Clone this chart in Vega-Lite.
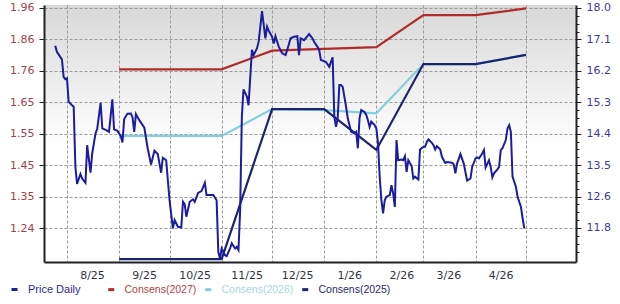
{
  "$schema": "https://vega.github.io/schema/vega-lite/v6.json",
  "width": 532,
  "height": 257,
  "autosize": {"type": "none"},
  "padding": {"left": 44, "top": 5, "right": 44, "bottom": 42},
  "background": "#ffffff",
  "view": {
    "stroke": null,
    "fill": {
      "gradient": "linear", "x1": 0, "y1": 0, "x2": 0, "y2": 1,
      "stops": [
        {"offset": 0, "color": "#d8d8d8"},
        {"offset": 0.55, "color": "#ffffff"},
        {"offset": 1, "color": "#ffffff"}
      ]
    }
  },
  "config": {"font": "DejaVu Sans"},
  "datasets": {
    "price": [
      {"date":"2025-07-25","series":"Price Daily","price":1.840},
      {"date":"2025-07-26","series":"Price Daily","price":1.820},
      {"date":"2025-07-29","series":"Price Daily","price":1.795},
      {"date":"2025-07-30","series":"Price Daily","price":1.738},
      {"date":"2025-07-31","series":"Price Daily","price":1.730},
      {"date":"2025-08-01","series":"Price Daily","price":1.733},
      {"date":"2025-08-02","series":"Price Daily","price":1.656},
      {"date":"2025-08-04","series":"Price Daily","price":1.645},
      {"date":"2025-08-05","series":"Price Daily","price":1.640},
      {"date":"2025-08-06","series":"Price Daily","price":1.443},
      {"date":"2025-08-07","series":"Price Daily","price":1.387},
      {"date":"2025-08-09","series":"Price Daily","price":1.420},
      {"date":"2025-08-10","series":"Price Daily","price":1.405},
      {"date":"2025-08-12","series":"Price Daily","price":1.391},
      {"date":"2025-08-13","series":"Price Daily","price":1.514},
      {"date":"2025-08-15","series":"Price Daily","price":1.424},
      {"date":"2025-08-16","series":"Price Daily","price":1.487},
      {"date":"2025-08-18","series":"Price Daily","price":1.553},
      {"date":"2025-08-19","series":"Price Daily","price":1.568},
      {"date":"2025-08-21","series":"Price Daily","price":1.653},
      {"date":"2025-08-22","series":"Price Daily","price":1.569},
      {"date":"2025-08-24","series":"Price Daily","price":1.564},
      {"date":"2025-08-26","series":"Price Daily","price":1.558},
      {"date":"2025-08-28","series":"Price Daily","price":1.664},
      {"date":"2025-08-29","series":"Price Daily","price":1.566},
      {"date":"2025-08-31","series":"Price Daily","price":1.561},
      {"date":"2025-09-02","series":"Price Daily","price":1.544},
      {"date":"2025-09-03","series":"Price Daily","price":1.523},
      {"date":"2025-09-04","series":"Price Daily","price":1.599},
      {"date":"2025-09-05","series":"Price Daily","price":1.609},
      {"date":"2025-09-06","series":"Price Daily","price":1.617},
      {"date":"2025-09-08","series":"Price Daily","price":1.618},
      {"date":"2025-09-09","series":"Price Daily","price":1.605},
      {"date":"2025-09-10","series":"Price Daily","price":1.558},
      {"date":"2025-09-11","series":"Price Daily","price":1.616},
      {"date":"2025-09-13","series":"Price Daily","price":1.596},
      {"date":"2025-09-15","series":"Price Daily","price":1.580},
      {"date":"2025-09-16","series":"Price Daily","price":1.572},
      {"date":"2025-09-18","series":"Price Daily","price":1.504},
      {"date":"2025-09-20","series":"Price Daily","price":1.451},
      {"date":"2025-09-22","series":"Price Daily","price":1.496},
      {"date":"2025-09-24","series":"Price Daily","price":1.485},
      {"date":"2025-09-26","series":"Price Daily","price":1.424},
      {"date":"2025-09-27","series":"Price Daily","price":1.473},
      {"date":"2025-09-29","series":"Price Daily","price":1.465},
      {"date":"2025-10-01","series":"Price Daily","price":1.334},
      {"date":"2025-10-03","series":"Price Daily","price":1.242},
      {"date":"2025-10-04","series":"Price Daily","price":1.269},
      {"date":"2025-10-06","series":"Price Daily","price":1.247},
      {"date":"2025-10-08","series":"Price Daily","price":1.245},
      {"date":"2025-10-09","series":"Price Daily","price":1.329},
      {"date":"2025-10-10","series":"Price Daily","price":1.321},
      {"date":"2025-10-11","series":"Price Daily","price":1.280},
      {"date":"2025-10-13","series":"Price Daily","price":1.329},
      {"date":"2025-10-15","series":"Price Daily","price":1.337},
      {"date":"2025-10-16","series":"Price Daily","price":1.329},
      {"date":"2025-10-18","series":"Price Daily","price":1.358},
      {"date":"2025-10-20","series":"Price Daily","price":1.364},
      {"date":"2025-10-22","series":"Price Daily","price":1.391},
      {"date":"2025-10-23","series":"Price Daily","price":1.351},
      {"date":"2025-10-27","series":"Price Daily","price":1.351},
      {"date":"2025-10-29","series":"Price Daily","price":1.334},
      {"date":"2025-10-30","series":"Price Daily","price":1.165},
      {"date":"2025-10-31","series":"Price Daily","price":1.143},
      {"date":"2025-11-01","series":"Price Daily","price":1.176},
      {"date":"2025-11-03","series":"Price Daily","price":1.154},
      {"date":"2025-11-04","series":"Price Daily","price":1.151},
      {"date":"2025-11-06","series":"Price Daily","price":1.176},
      {"date":"2025-11-07","series":"Price Daily","price":1.193},
      {"date":"2025-11-09","series":"Price Daily","price":1.176},
      {"date":"2025-11-10","series":"Price Daily","price":1.181},
      {"date":"2025-11-11","series":"Price Daily","price":1.171},
      {"date":"2025-11-12","series":"Price Daily","price":1.302},
      {"date":"2025-11-13","series":"Price Daily","price":1.607},
      {"date":"2025-11-14","series":"Price Daily","price":1.697},
      {"date":"2025-11-16","series":"Price Daily","price":1.673},
      {"date":"2025-11-17","series":"Price Daily","price":1.645},
      {"date":"2025-11-19","series":"Price Daily","price":1.826},
      {"date":"2025-11-20","series":"Price Daily","price":1.809},
      {"date":"2025-11-22","series":"Price Daily","price":1.831},
      {"date":"2025-11-23","series":"Price Daily","price":1.853},
      {"date":"2025-11-24","series":"Price Daily","price":1.902},
      {"date":"2025-11-25","series":"Price Daily","price":1.953},
      {"date":"2025-11-27","series":"Price Daily","price":1.864},
      {"date":"2025-11-28","series":"Price Daily","price":1.902},
      {"date":"2025-11-29","series":"Price Daily","price":1.889},
      {"date":"2025-12-01","series":"Price Daily","price":1.869},
      {"date":"2025-12-02","series":"Price Daily","price":1.847},
      {"date":"2025-12-03","series":"Price Daily","price":1.871},
      {"date":"2025-12-04","series":"Price Daily","price":1.853},
      {"date":"2025-12-05","series":"Price Daily","price":1.836},
      {"date":"2025-12-07","series":"Price Daily","price":1.815},
      {"date":"2025-12-09","series":"Price Daily","price":1.809},
      {"date":"2025-12-10","series":"Price Daily","price":1.826},
      {"date":"2025-12-12","series":"Price Daily","price":1.864},
      {"date":"2025-12-14","series":"Price Daily","price":1.869},
      {"date":"2025-12-16","series":"Price Daily","price":1.871},
      {"date":"2025-12-17","series":"Price Daily","price":1.809},
      {"date":"2025-12-18","series":"Price Daily","price":1.864},
      {"date":"2025-12-20","series":"Price Daily","price":1.858},
      {"date":"2025-12-22","series":"Price Daily","price":1.871},
      {"date":"2025-12-23","series":"Price Daily","price":1.878},
      {"date":"2025-12-25","series":"Price Daily","price":1.864},
      {"date":"2025-12-26","series":"Price Daily","price":1.853},
      {"date":"2025-12-28","series":"Price Daily","price":1.836},
      {"date":"2025-12-29","series":"Price Daily","price":1.826},
      {"date":"2025-12-30","series":"Price Daily","price":1.793},
      {"date":"2026-01-02","series":"Price Daily","price":1.787},
      {"date":"2026-01-04","series":"Price Daily","price":1.771},
      {"date":"2026-01-05","series":"Price Daily","price":1.787},
      {"date":"2026-01-06","series":"Price Daily","price":1.802},
      {"date":"2026-01-07","series":"Price Daily","price":1.607},
      {"date":"2026-01-08","series":"Price Daily","price":1.574},
      {"date":"2026-01-09","series":"Price Daily","price":1.602},
      {"date":"2026-01-10","series":"Price Daily","price":1.711},
      {"date":"2026-01-11","series":"Price Daily","price":1.711},
      {"date":"2026-01-12","series":"Price Daily","price":1.705},
      {"date":"2026-01-14","series":"Price Daily","price":1.640},
      {"date":"2026-01-15","series":"Price Daily","price":1.602},
      {"date":"2026-01-17","series":"Price Daily","price":1.558},
      {"date":"2026-01-19","series":"Price Daily","price":1.553},
      {"date":"2026-01-20","series":"Price Daily","price":1.558},
      {"date":"2026-01-21","series":"Price Daily","price":1.504},
      {"date":"2026-01-22","series":"Price Daily","price":1.602},
      {"date":"2026-01-23","series":"Price Daily","price":1.629},
      {"date":"2026-01-25","series":"Price Daily","price":1.623},
      {"date":"2026-01-26","series":"Price Daily","price":1.613},
      {"date":"2026-01-27","series":"Price Daily","price":1.596},
      {"date":"2026-01-28","series":"Price Daily","price":1.574},
      {"date":"2026-01-29","series":"Price Daily","price":1.591},
      {"date":"2026-01-31","series":"Price Daily","price":1.580},
      {"date":"2026-02-01","series":"Price Daily","price":1.569},
      {"date":"2026-02-02","series":"Price Daily","price":1.520},
      {"date":"2026-02-03","series":"Price Daily","price":1.411},
      {"date":"2026-02-04","series":"Price Daily","price":1.334},
      {"date":"2026-02-05","series":"Price Daily","price":1.291},
      {"date":"2026-02-06","series":"Price Daily","price":1.334},
      {"date":"2026-02-07","series":"Price Daily","price":1.345},
      {"date":"2026-02-09","series":"Price Daily","price":1.351},
      {"date":"2026-02-10","series":"Price Daily","price":1.383},
      {"date":"2026-02-11","series":"Price Daily","price":1.356},
      {"date":"2026-02-12","series":"Price Daily","price":1.312},
      {"date":"2026-02-13","series":"Price Daily","price":1.531},
      {"date":"2026-02-14","series":"Price Daily","price":1.465},
      {"date":"2026-02-16","series":"Price Daily","price":1.467},
      {"date":"2026-02-17","series":"Price Daily","price":1.465},
      {"date":"2026-02-18","series":"Price Daily","price":1.478},
      {"date":"2026-02-19","series":"Price Daily","price":1.427},
      {"date":"2026-02-20","series":"Price Daily","price":1.465},
      {"date":"2026-02-22","series":"Price Daily","price":1.446},
      {"date":"2026-02-23","series":"Price Daily","price":1.405},
      {"date":"2026-02-24","series":"Price Daily","price":1.411},
      {"date":"2026-02-26","series":"Price Daily","price":1.402},
      {"date":"2026-02-27","series":"Price Daily","price":1.500},
      {"date":"2026-03-01","series":"Price Daily","price":1.509},
      {"date":"2026-03-02","series":"Price Daily","price":1.509},
      {"date":"2026-03-03","series":"Price Daily","price":1.525},
      {"date":"2026-03-04","series":"Price Daily","price":1.533},
      {"date":"2026-03-06","series":"Price Daily","price":1.522},
      {"date":"2026-03-07","series":"Price Daily","price":1.514},
      {"date":"2026-03-08","series":"Price Daily","price":1.500},
      {"date":"2026-03-09","series":"Price Daily","price":1.511},
      {"date":"2026-03-11","series":"Price Daily","price":1.500},
      {"date":"2026-03-12","series":"Price Daily","price":1.476},
      {"date":"2026-03-14","series":"Price Daily","price":1.456},
      {"date":"2026-03-15","series":"Price Daily","price":1.459},
      {"date":"2026-03-18","series":"Price Daily","price":1.457},
      {"date":"2026-03-19","series":"Price Daily","price":1.452},
      {"date":"2026-03-20","series":"Price Daily","price":1.422},
      {"date":"2026-03-21","series":"Price Daily","price":1.454},
      {"date":"2026-03-23","series":"Price Daily","price":1.485},
      {"date":"2026-03-25","series":"Price Daily","price":1.454},
      {"date":"2026-03-27","series":"Price Daily","price":1.398},
      {"date":"2026-03-29","series":"Price Daily","price":1.405},
      {"date":"2026-03-30","series":"Price Daily","price":1.443},
      {"date":"2026-04-01","series":"Price Daily","price":1.471},
      {"date":"2026-04-02","series":"Price Daily","price":1.474},
      {"date":"2026-04-03","series":"Price Daily","price":1.471},
      {"date":"2026-04-05","series":"Price Daily","price":1.487},
      {"date":"2026-04-06","series":"Price Daily","price":1.498},
      {"date":"2026-04-07","series":"Price Daily","price":1.441},
      {"date":"2026-04-09","series":"Price Daily","price":1.465},
      {"date":"2026-04-10","series":"Price Daily","price":1.443},
      {"date":"2026-04-11","series":"Price Daily","price":1.409},
      {"date":"2026-04-12","series":"Price Daily","price":1.422},
      {"date":"2026-04-14","series":"Price Daily","price":1.435},
      {"date":"2026-04-15","series":"Price Daily","price":1.443},
      {"date":"2026-04-16","series":"Price Daily","price":1.498},
      {"date":"2026-04-17","series":"Price Daily","price":1.504},
      {"date":"2026-04-19","series":"Price Daily","price":1.531},
      {"date":"2026-04-20","series":"Price Daily","price":1.569},
      {"date":"2026-04-21","series":"Price Daily","price":1.580},
      {"date":"2026-04-22","series":"Price Daily","price":1.558},
      {"date":"2026-04-23","series":"Price Daily","price":1.411},
      {"date":"2026-04-25","series":"Price Daily","price":1.378},
      {"date":"2026-04-26","series":"Price Daily","price":1.345},
      {"date":"2026-04-28","series":"Price Daily","price":1.312},
      {"date":"2026-04-29","series":"Price Daily","price":1.275},
      {"date":"2026-04-30","series":"Price Daily","price":1.242}
    ],
    "cons": [
      {"date":"2025-09-01","series":"Consens(2027)","eps":16.26},
      {"date":"2025-10-01","series":"Consens(2027)","eps":16.26},
      {"date":"2025-11-01","series":"Consens(2027)","eps":16.26},
      {"date":"2025-12-01","series":"Consens(2027)","eps":16.79},
      {"date":"2026-01-01","series":"Consens(2027)","eps":16.84},
      {"date":"2026-02-01","series":"Consens(2027)","eps":16.89},
      {"date":"2026-03-01","series":"Consens(2027)","eps":17.80},
      {"date":"2026-04-01","series":"Consens(2027)","eps":17.80},
      {"date":"2026-05-01","series":"Consens(2027)","eps":17.99},
      {"date":"2025-09-01","series":"Consens(2026)","eps":14.37},
      {"date":"2025-10-01","series":"Consens(2026)","eps":14.37},
      {"date":"2025-11-01","series":"Consens(2026)","eps":14.37},
      {"date":"2025-12-01","series":"Consens(2026)","eps":15.13},
      {"date":"2026-01-01","series":"Consens(2026)","eps":15.10},
      {"date":"2026-02-01","series":"Consens(2026)","eps":15.01},
      {"date":"2026-03-01","series":"Consens(2026)","eps":16.41},
      {"date":"2026-04-01","series":"Consens(2026)","eps":16.41},
      {"date":"2026-05-01","series":"Consens(2026)","eps":16.67},
      {"date":"2025-09-01","series":"Consens(2025)","eps":10.87},
      {"date":"2025-10-01","series":"Consens(2025)","eps":10.87},
      {"date":"2025-11-01","series":"Consens(2025)","eps":10.87},
      {"date":"2025-12-01","series":"Consens(2025)","eps":15.13},
      {"date":"2026-01-01","series":"Consens(2025)","eps":15.13},
      {"date":"2026-02-01","series":"Consens(2025)","eps":13.97},
      {"date":"2026-03-01","series":"Consens(2025)","eps":16.41},
      {"date":"2026-04-01","series":"Consens(2025)","eps":16.41},
      {"date":"2026-05-01","series":"Consens(2025)","eps":16.67}
    ]
  },
  "layer": [
    {
      "data": {"name": "cons"},
      "mark": {"type": "line", "strokeWidth": 2.2},
      "encoding": {
        "x": {
          "field": "date", "type": "temporal",
          "scale": {"type": "utc", "domain": [{"year": 2025, "month": 7, "date": 18, "hours": 8, "utc": true}, {"year": 2026, "month": 5, "date": 30, "hours": 18, "utc": true}]},
          "axis": {
            "title": null,
            "values": [
              {"year": 2025, "month": 8, "date": 1, "utc": true},
              {"year": 2025, "month": 9, "date": 1, "utc": true},
              {"year": 2025, "month": 10, "date": 1, "utc": true},
              {"year": 2025, "month": 11, "date": 1, "utc": true},
              {"year": 2025, "month": 12, "date": 1, "utc": true},
              {"year": 2026, "month": 1, "date": 1, "utc": true},
              {"year": 2026, "month": 2, "date": 1, "utc": true},
              {"year": 2026, "month": 3, "date": 1, "utc": true},
              {"year": 2026, "month": 4, "date": 1, "utc": true},
              {"year": 2026, "month": 5, "date": 1, "utc": true}
            ],
            "labelExpr": "utcmonth(datum.value) == 4 ? '' : utcFormat(datum.value, '%-m/%y')",
            "labelOffset": 25, "labelAlign": "center", "labelPadding": 7,
            "ticks": false, "grid": true, "gridColor": "#9a9a9a", "gridDash": [3, 2],
            "domainColor": "#222222", "domainWidth": 2,
            "labelColor": "#333344", "labelFont": "DejaVu Sans", "labelFontSize": 11,
            "labelOverlap": false, "labelFlush": false, "labelBound": false
          }
        },
        "y": {
          "field": "eps", "type": "quantitative",
          "scale": {"domain": [10.7858, 18.0882], "nice": false, "zero": false},
          "axis": {
            "orient": "right", "title": null, "grid": false,
            "values": [18.003, 17.77975, 17.5565, 17.33325, 17.11, 16.88675, 16.6635, 16.44025, 16.217, 15.99375, 15.7705, 15.54725, 15.324, 15.10075, 14.8775, 14.65425, 14.431, 14.20775, 13.9845, 13.76125, 13.538, 13.31475, 13.0915, 12.86825, 12.645, 12.42175, 12.1985, 11.97525, 11.752, 11.52875, 11.3055, 11.08225],
            "labelExpr": "abs((18.003 - datum.value)/0.893 - round((18.003 - datum.value)/0.893)) < 0.05 ? format(datum.value, '.1f') : ''",
            "tickSize": {"condition": {"test": "abs((18.003 - datum.value)/0.893 - round((18.003 - datum.value)/0.893)) < 0.05", "value": 5}, "value": 3},
            "tickColor": "#222222", "tickWidth": 1,
            "domainColor": "#222222", "domainWidth": 2,
            "labelColor": "#3c3c9a", "labelFont": "DejaVu Sans", "labelFontSize": 11,
            "labelPadding": 5, "labelOverlap": false, "labelBound": false, "labelFlush": false
          }
        },
        "color": {
          "field": "series", "type": "nominal",
          "scale": {"domain": ["Consens(2027)", "Consens(2026)", "Consens(2025)"], "range": ["#b02c2c", "#84d0da", "#1c2472"]},
          "legend": {
            "orient": "none", "direction": "horizontal", "legendX": 62, "legendY": 279,
            "title": null, "padding": 0, "columnPadding": 2,
            "symbolType": "stroke", "symbolSize": 36, "symbolStrokeWidth": 3,
            "labelFont": "Liberation Sans", "labelFontSize": 10.5, "labelOffset": 8,
            "encode": {"labels": {"update": {"fill": {"signal": "datum.value === 'Consens(2027)' ? '#b04444' : datum.value === 'Consens(2026)' ? '#a8d8e0' : '#2a2a6e'"}}}}
          }
        }
      }
    },
    {
      "data": {"name": "price"},
      "mark": {"type": "line", "strokeWidth": 2},
      "encoding": {
        "x": {
          "field": "date", "type": "temporal",
          "scale": {"type": "utc", "domain": [{"year": 2025, "month": 7, "date": 18, "hours": 8, "utc": true}, {"year": 2026, "month": 5, "date": 30, "hours": 18, "utc": true}]},
          "axis": {
            "title": null,
            "values": [
              {"year": 2025, "month": 8, "date": 1, "utc": true},
              {"year": 2025, "month": 9, "date": 1, "utc": true},
              {"year": 2025, "month": 10, "date": 1, "utc": true},
              {"year": 2025, "month": 11, "date": 1, "utc": true},
              {"year": 2025, "month": 12, "date": 1, "utc": true},
              {"year": 2026, "month": 1, "date": 1, "utc": true},
              {"year": 2026, "month": 2, "date": 1, "utc": true},
              {"year": 2026, "month": 3, "date": 1, "utc": true},
              {"year": 2026, "month": 4, "date": 1, "utc": true},
              {"year": 2026, "month": 5, "date": 1, "utc": true}
            ],
            "labelExpr": "utcmonth(datum.value) == 4 ? '' : utcFormat(datum.value, '%-m/%y')",
            "labelOffset": 25, "labelAlign": "center", "labelPadding": 7,
            "ticks": false, "grid": true, "gridColor": "#9a9a9a", "gridDash": [3, 2],
            "domainColor": "#222222", "domainWidth": 2,
            "labelColor": "#333344", "labelFont": "DejaVu Sans", "labelFontSize": 11,
            "labelOverlap": false, "labelFlush": false, "labelBound": false
          }
        },
        "y": {
          "field": "price", "type": "quantitative",
          "scale": {"domain": [1.1317, 1.9731], "nice": false, "zero": false},
          "axis": {
            "orient": "left", "title": null,
            "values": [1.243, 1.3459, 1.4488, 1.5517, 1.6546, 1.7575, 1.8604, 1.9633],
            "format": ".2f",
            "grid": true, "gridColor": "#9a9a9a", "gridDash": [3, 2],
            "tickSize": 5, "tickColor": "#222222", "tickWidth": 1,
            "domainColor": "#222222", "domainWidth": 2,
            "labelColor": "#a0444c", "labelFont": "DejaVu Sans", "labelFontSize": 11,
            "labelPadding": 5, "labelOverlap": false, "labelBound": false, "labelFlush": false
          }
        },
        "color": {
          "field": "series", "type": "nominal",
          "scale": {"domain": ["Price Daily"], "range": ["#1c1c9e"]},
          "legend": {
            "orient": "none", "legendX": -35, "legendY": 279,
            "title": null, "padding": 0,
            "symbolType": "stroke", "symbolSize": 36, "symbolStrokeWidth": 3,
            "labelFont": "Liberation Sans", "labelFontSize": 11, "labelOffset": 8,
            "labelColor": "#2a2a9a"
          }
        }
      }
    }
  ],
  "resolve": {"scale": {"y": "independent", "color": "independent"}}
}
